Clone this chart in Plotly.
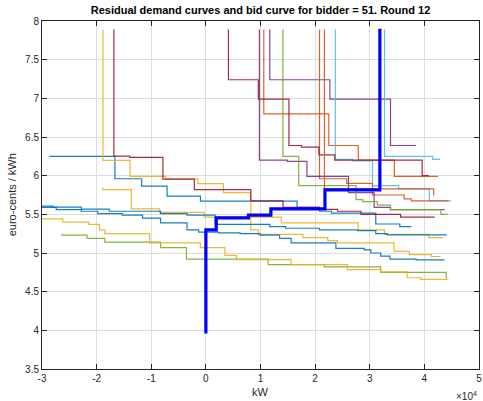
import plotly.graph_objects as go

# ---- data (x in kW, y in euro-cents / kWh), step curves drawn with 'vh' shape ----
TOP = 7.89

b1_kw = [-28500, -16650, -11750, -7100, -1000, 16700, 20800, 23000, 31100, 35500, 37600]
b1_pr = [6.26, 6.25, 5.96, 5.865, 5.736, 5.67, 5.59, 5.54, 5.515, 5.375, 5.34]

o1_kw = [10600, 22500, 27900, 34500, 42500]
o1_pr = [TOP, 6.80, 6.39, 6.20, 5.99]

y1_kw = [-18850, -13870, -7380, -1450, 3220, 8220, 9580, 17760, 22310, 24100, 34440, 37270, 41270, 42980]
y1_pr = [TOP, 6.198, 5.99, 5.956, 5.897, 5.78, 5.30, 5.24, 5.20, 5.16, 5.13, 5.02, 4.98, 4.955]

p1_kw = [11700, 22700, 33800, 38500]
p1_pr = [TOP, 7.24, 6.99, 6.39]

g1_kw = [-26350, -21750, -18500, -8300, -3560, 11400, 21700, 32000, 44000, 44000]
g1_pr = [5.25, 5.23, 5.19, 5.14, 5.07, 4.92, 4.85, 4.82, 4.75, 4.67]

lb1_kw = [23700, 26900, 30500, 35300, 40900, 44900]
lb1_pr = [TOP, 6.21, 6.19, 5.87, 5.83, 5.675]

r1_kw = [-16840, -13930, -7870, -2110, 8220, 14130, 20800, 24100, 28400, 35640, 41900]
r1_pr = [TOP, 6.253, 6.236, 5.956, 5.819, 5.675, 5.59, 5.565, 5.54, 5.50, 5.465]

b2_kw = [-30000, -27400, -22800, -19800, -15300, -11600, -8300, -3450, -1330, 2300, 6250,
         9900, 13500, 15600, 23800, 29000, 30200, 32000, 33700, 38500, 43700]
b2_pr = [5.59, 5.59, 5.56, 5.54, 5.51, 5.49, 5.45, 5.39, 5.30, 5.27, 5.26,
         5.25, 5.23, 5.19, 5.13, 5.06, 5.04, 5.00, 4.96, 4.92, 4.91]

o2_kw = [20800, 25800, 30500, 36300, 37600, 44400]
o2_pr = [TOP, 5.96, 5.90, 5.75, 5.70, 5.675]

y2_kw = [-18850, -13640, -8470, -300, 13800, 27900, 32700, 40800, 43500]
y2_pr = [5.845, 5.82, 5.57, 5.525, 5.465, 5.39, 5.30, 5.24, 5.20]

p2_kw = [9800, 14900, 18500, 26100, 30800, 33800, 43700]
p2_pr = [TOP, 6.20, 6.185, 5.99, 5.78, 5.59, 5.56]

g2_kw = [14100, 17000, 27500, 28700, 31400, 33800, 43000, 44300]
g2_pr = [TOP, 6.25, 5.87, 5.69, 5.665, 5.62, 5.56, 5.50]

lb2_kw = [32700, 41500, 42900]
lb2_pr = [TOP, 6.25, 6.21]

r2_kw = [4130, 9600, 15200, 17500, 20700, 23600, 39600, 40800]
r2_pr = [TOP, 7.24, 6.99, 6.39, 6.37, 6.27, 6.20, 6.00]

b3_kw = [-30000, -28000, -22800, -17700, -8300, -3450, 1700, 11700, 14600, 20800, 27800, 31100, 33200, 44100]
b3_pr = [5.607, 5.607, 5.594, 5.568, 5.54, 5.51, 5.49, 5.37, 5.34, 5.32, 5.30, 5.29, 5.25, 5.235]

o3_kw = [21700, 41700, 41700]
o3_pr = [TOP, 5.83, 5.745]

y3_kw = [-30000, -26200, -21450, -19500, -18500, -10300, -1000, 3500, 5600, 15600, 25900, 32000, 36850, 39300, 44400]
y3_pr = [5.44, 5.44, 5.40, 5.37, 5.30, 5.25, 5.13, 5.07, 4.97, 4.915, 4.85, 4.785, 4.755, 4.68, 4.66]

bid_kw = [0, 1900, 7800, 11900, 21800, 31850, 31850]
bid_pr = [3.96, 5.30, 5.455, 5.49, 5.57, 5.815, 7.90]

x_tick_vals = [-30000, -20000, -10000, 0, 10000, 20000, 30000, 40000, 50000]
x_tick_text = ["-3", "-2", "-1", "0", "1", "2", "3", "4", "5"]

BLUE, ORANGE, YELLOW, PURPLE = "#0072BD", "#D95319", "#EDB120", "#7E2F8E"
GREEN, LBLUE, DRED = "#77AC30", "#4DBEEE", "#A2142F"

curves = [
    (b1_kw, b1_pr, BLUE), (o1_kw, o1_pr, ORANGE), (y1_kw, y1_pr, YELLOW),
    (p1_kw, p1_pr, PURPLE), (g1_kw, g1_pr, GREEN), (lb1_kw, lb1_pr, LBLUE),
    (r1_kw, r1_pr, DRED), (b2_kw, b2_pr, BLUE), (o2_kw, o2_pr, ORANGE),
    (y2_kw, y2_pr, YELLOW), (p2_kw, p2_pr, PURPLE), (g2_kw, g2_pr, GREEN),
    (lb2_kw, lb2_pr, LBLUE), (r2_kw, r2_pr, DRED), (b3_kw, b3_pr, BLUE),
    (o3_kw, o3_pr, ORANGE), (y3_kw, y3_pr, YELLOW),
]

fig = go.Figure()
for xs, ys, col in curves:
    fig.add_trace(go.Scatter(x=xs, y=ys, mode="lines", line=dict(color=col, width=1.2, shape="vh"),
                             opacity=0.9, showlegend=False, hoverinfo="skip"))

fig.add_trace(go.Scatter(x=bid_kw, y=bid_pr, mode="lines",
                         line=dict(color="#0000FF", width=3.2, shape="vh"), showlegend=False))

FONT = "Liberation Sans, Arial, Helvetica, sans-serif"
axis_common = dict(ticks="inside", ticklen=5, tickcolor="#262626", showline=True, linecolor="#262626",
                   linewidth=1, mirror="allticks", showgrid=True, gridcolor="#dedede", gridwidth=1,
                   zeroline=False, ticklabeloverflow="allow",
                   tickfont=dict(family=FONT, size=10, color="#262626"))

fig.update_layout(
    width=483, height=401,
    margin=dict(l=42, r=1, t=21, b=32),
    paper_bgcolor="white", plot_bgcolor="white",
    font=dict(family=FONT, size=10, color="#262626"),
    title=dict(text="<b>Residual demand curves and bid curve for bidder = 51. Round 12</b>",
               font=dict(family=FONT, size=11, color="black"),
               x=0.5, xref="paper", xanchor="center", y=0.975, yref="container", yanchor="middle"),
    xaxis=dict(range=[-30000, 50000], tickvals=x_tick_vals, ticktext=x_tick_text, **axis_common),
    yaxis=dict(range=[3.5, 8], dtick=0.5, tick0=3.5, **axis_common),
    annotations=[
        dict(text="kW", xref="paper", yref="paper", x=0.5, y=-0.067, showarrow=False,
             font=dict(family=FONT, size=11, color="#262626"), xanchor="center", yanchor="middle"),
        dict(text="euro-cents / kWh", xref="paper", yref="paper", x=-0.068, y=0.5, showarrow=False,
             textangle=-90, font=dict(family=FONT, size=11, color="#262626"),
             xanchor="center", yanchor="middle"),
        dict(text="×10<sup>4</sup>", xref="paper", yref="paper", x=1.0, y=-0.078, showarrow=False,
             font=dict(family=FONT, size=10, color="#262626"), xanchor="right", yanchor="middle"),
    ],
)

fig.write_html("out.html", config={"displayModeBar": False},
               post_script="document.body.style.margin='0';document.body.style.overflow='hidden';")
